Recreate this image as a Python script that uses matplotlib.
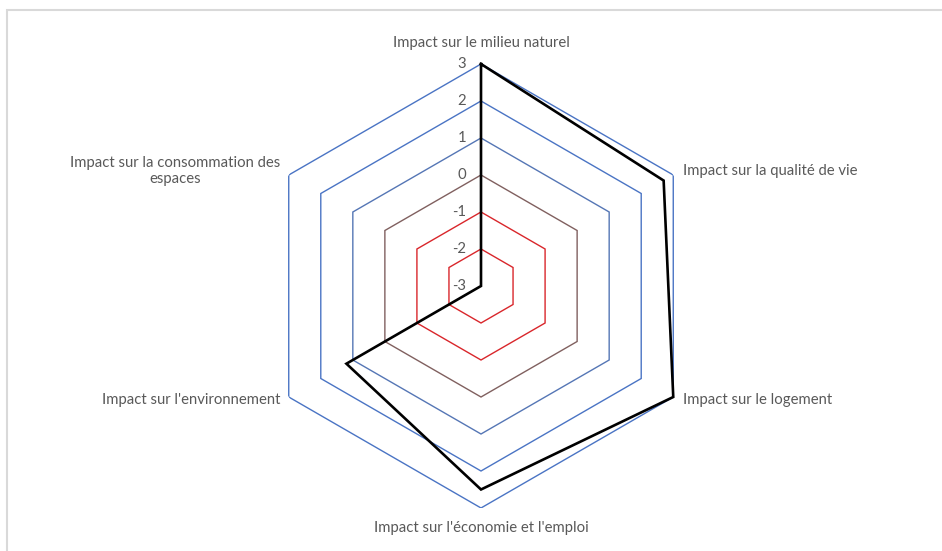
import numpy as np
import matplotlib
matplotlib.use("Agg")
import matplotlib.pyplot as plt
from matplotlib.patches import Rectangle

# Axis categories (clockwise from the top) and their scores
categories = [
    "Impact sur le milieu naturel",
    "Impact sur la qualité de vie",
    "Impact sur le logement",
    "Impact sur l'économie et l'emploi",
    "Impact sur l'environnement",
    "Impact sur la consommation des\nespaces",
]
scores = [3.0, 2.7, 3.0, 2.5, 1.2, -3.0]

# Radial scale levels and the colour of each hexagonal ring
levels = [-3, -2, -1, 0, 1, 2, 3]
level_labels = ["-3", "-2", "-1", "0", "1", "2", "3"]
ring_colors = {-2: "#d9262b", -1: "#d9262b", 0: "#80605f",
               1: "#5576b5", 2: "#4a74c4", 3: "#4a74c4"}

TEXT = "#595959"
FS = 10.7
W, H = 942, 551
fig = plt.figure(figsize=(W / 100, H / 100), dpi=100)
fig.patch.set_facecolor("white")

# chart-area frame
fig.patches.append(Rectangle((6.5 / W, -0.2), 1.2, 1.2 - 9.5 / H,
                             transform=fig.transFigure, fill=False,
                             edgecolor="#d9d9d9", linewidth=1.5))

cx, cy, R = 481, 286, 222
ax = fig.add_axes([(cx - R) / W, (H - cy - R) / H, 2 * R / W, 2 * R / H],
                  projection="polar")
ax.set_theta_offset(np.pi / 2)
ax.set_theta_direction(-1)
ax.set_ylim(-3, 3)
ax.grid(False)
ax.spines["polar"].set_visible(False)
ax.set_xticks([])
ax.set_yticks([])
ax.patch.set_alpha(0)

n = len(categories)
angles = np.linspace(0, 2 * np.pi, n, endpoint=False)
closed = np.append(angles, angles[0])

for lv in levels:
    if lv == -3:
        continue
    ax.plot(closed, [lv] * (n + 1), color=ring_colors[lv], lw=1.0,
            solid_joinstyle="miter", zorder=2)

vals = np.append(scores, scores[0])
ax.plot(closed, vals, color="black", lw=1.9, solid_joinstyle="miter",
        zorder=5, clip_on=False)

# radial value labels along the top spoke
for lv, lab in zip(levels, level_labels):
    ax.annotate(lab, xy=(0, lv), xytext=(-15, 0), textcoords="offset pixels",
                ha="right", va="center", fontsize=FS, color=TEXT,
                family="Lato", annotation_clip=False)

# category labels
offsets = [((0, 21), "center", "center"),
           ((10, 4), "left", "center"),
           ((10, -3), "left", "center"),
           ((0, -20), "center", "center"),
           ((-8, -3), "right", "center"),
           ((-8, 4), "right", "center")]
for ang, lab, (off, ha, va) in zip(angles, categories, offsets):
    ax.annotate(lab, xy=(ang, 3), xytext=off, textcoords="offset pixels",
                ha=ha, va=va, fontsize=FS, color=TEXT, family="Lato",
                multialignment="center", linespacing=1.15,
                annotation_clip=False)

fig.savefig("out.png", dpi=100)
